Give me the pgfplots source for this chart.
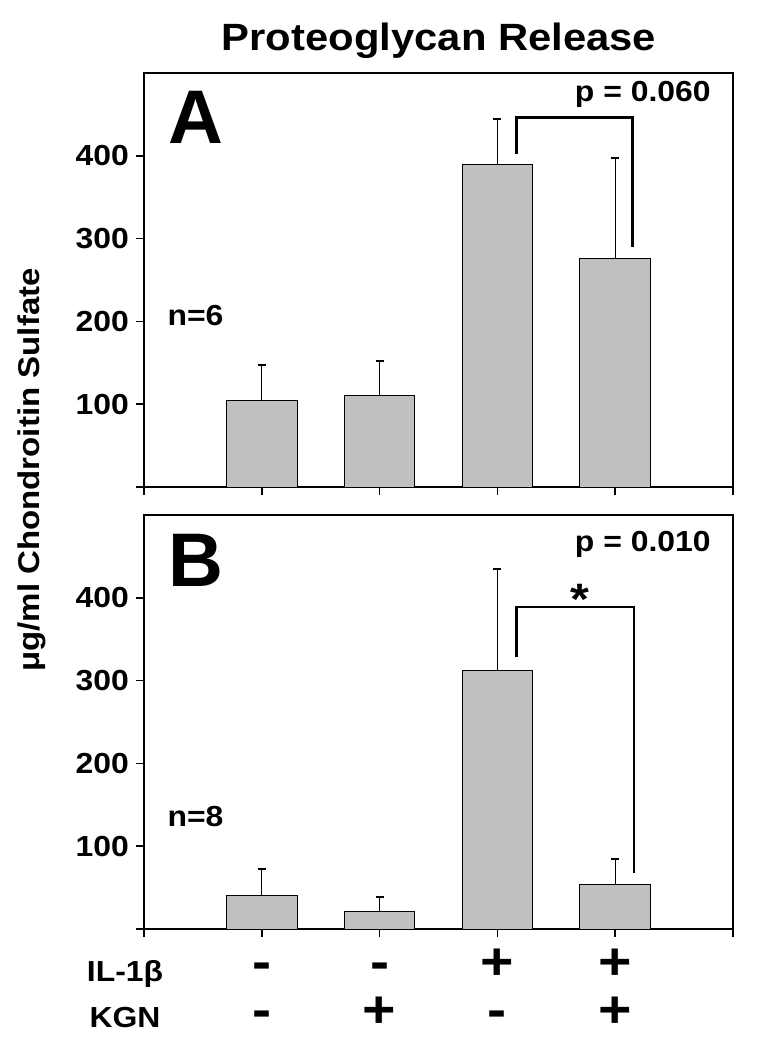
\documentclass[border=0pt]{standalone}
\usepackage{fontspec}
\setmainfont{Liberation Sans}[FakeStretch=1.1]
\newfontfamily\bigfont{Liberation Sans}
\usepackage{pgfplots}
\usepackage{pgfplotstable}
\pgfplotsset{compat=1.18}
\definecolor{barfill}{RGB}{192,192,192}

\pgfplotstableread{
x y e
1 105 42
2 110 42
3 390 54
4 276 121
}\dataA
\pgfplotstableread{
x y e
1 40 32
2 21 18
3 312 123
4 54 31
}\dataB

\newcommand{\lbl}{\fontsize{14.5}{16}\selectfont\bfseries}
\newcommand{\st}{\rule{0pt}{0.75em}}
\pgfplotsset{panel/.style={
  scale only axis, width=294.5pt, height=207pt,
  xmin=0, xmax=5, ymin=0, ymax=500,
  xtick={0,1,2,3,4,5}, xticklabels={},
  ytick={0,100,200,300,400}, yticklabels={,100,200,300,400},
  tick align=outside, xtick pos=bottom, ytick pos=left,
  major tick length=4pt,
  tick style={black, line width=0.8pt},
  axis line style={black, line width=0.8pt},
  yticklabel style={font=\lbl},
  /pgf/number format/assume math mode=true,
  clip=false,
}, bars/.style={ybar, bar width=0.6, fill=barfill, draw=black, line width=0.5pt,
  error bars/.cd, y dir=plus, y explicit,
  error bar style={line width=0.6pt, black},
  error mark options={rotate=90, mark size=2pt, line width=1pt, black}}
}

\begin{document}
\begin{tikzpicture}
\useasboundingbox (0,0) rectangle (378.5pt,-525pt);
\node[anchor=base, font=\fontsize{19}{20}\selectfont\bfseries] at (219.5pt,-25pt) {Proteoglycan Release};
\node[rotate=90, font=\fontsize{15}{16}\selectfont\bfseries] at (16pt,-235pt) {μg/ml Chondroitin Sulfate};

\begin{axis}[panel, at={(72pt,-243.5pt)}, anchor=south west]
\addplot[bars] table[x=x, y=y, y error=e]{\dataA};
\addplot[black, line width=1.5pt, sharp plot, no marks] coordinates {(3.16,402) (3.16,446) (4.15,446) (4.15,290)};
\node[anchor=east, font=\lbl] at (axis cs:4.87,474) {p = 0.060};
\node[anchor=west, font=\fontsize{38}{40}\selectfont\bigfont\bfseries] at (axis cs:0.15,446) {A};
\node[anchor=west, font=\lbl] at (axis cs:0.14,207) {n=6};
\end{axis}

\begin{axis}[panel, at={(72pt,-464.5pt)}, anchor=south west,
  xticklabels={{},{\st-\\\st-},{\st-\\\st+},{\st+\\\st-},{\st+\\\st+},{}},
  xticklabel style={align=center, anchor=north, inner sep=0pt, yshift=-1.75pt,
    font=\fontsize{26}{24}\selectfont\bfseries}]
\addplot[bars] table[x=x, y=y, y error=e]{\dataB};
\addplot[black, line width=1.3pt, sharp plot, no marks] coordinates {(3.16,328) (3.16,389) (4.16,389) (4.16,68)};
\node[anchor=east, font=\lbl] at (axis cs:4.87,465) {p = 0.010};
\node[anchor=west, font=\fontsize{38}{40}\selectfont\bigfont\bfseries] at (axis cs:0.15,445) {B};
\node[anchor=west, font=\lbl] at (axis cs:0.14,136) {n=8};
\node[font=\fontsize{22}{24}\selectfont\bfseries] at (axis cs:3.7,398) {*};
\end{axis}

\node[anchor=base, inner sep=0pt, font=\lbl] at (62.5pt,-490.5pt) {IL-1β};
\node[anchor=base, inner sep=0pt, font=\lbl] at (62.5pt,-513.5pt) {KGN};
\end{tikzpicture}
\end{document}
